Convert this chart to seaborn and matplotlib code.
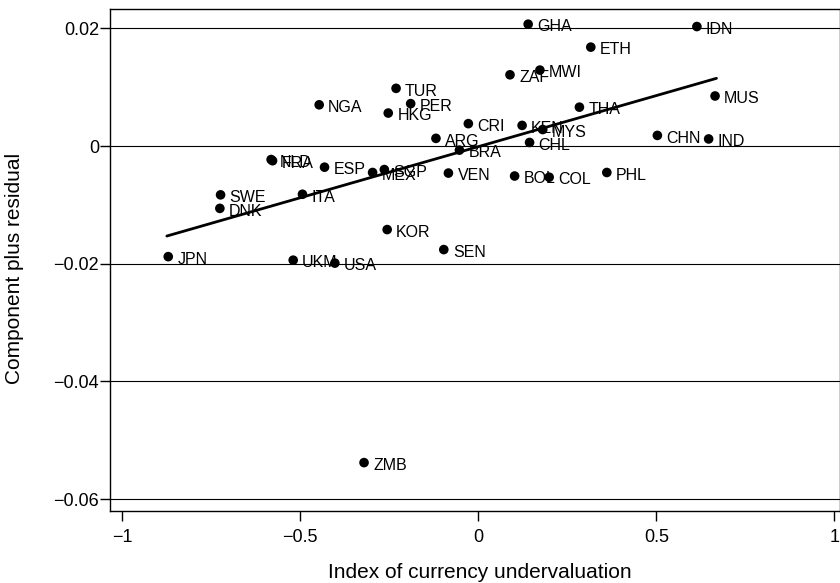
import matplotlib
matplotlib.use("Agg")
import matplotlib.pyplot as plt
import seaborn as sns
import pandas as pd

# ---- data ----
countries = ["GHA", "IDN", "ETH", "ZAF", "MWI", "TUR", "NGA", "PER", "HKG", "MUS",
             "THA", "CRI", "KEN", "MYS", "CHN", "IND", "ARG", "CHL", "BRA", "NLD",
             "FRA", "ESP", "SGP", "MEX", "VEN", "BOL", "COL", "PHL", "SWE", "DNK",
             "ITA", "KOR", "SEN", "JPN", "UKM", "USA", "ZMB"]
undervaluation = [0.140, 0.614, 0.316, 0.089, 0.173, -0.231, -0.447, -0.190, -0.253, 0.665,
                  0.284, -0.028, 0.123, 0.181, 0.503, 0.647, -0.119, 0.144, -0.053, -0.582,
                  -0.578, -0.432, -0.264, -0.297, -0.084, 0.102, 0.199, 0.361, -0.724, -0.726,
                  -0.494, -0.256, -0.097, -0.871, -0.520, -0.403, -0.321]
comp_resid = [0.0207, 0.0203, 0.0168, 0.0121, 0.0129, 0.0098, 0.0070, 0.0072, 0.0056, 0.0085,
              0.0066, 0.0038, 0.0035, 0.0028, 0.0018, 0.0012, 0.0013, 0.0006, -0.0007, -0.0023,
              -0.0025, -0.0036, -0.0040, -0.0045, -0.0046, -0.0051, -0.0053, -0.0045, -0.0083, -0.0106,
              -0.0082, -0.0142, -0.0176, -0.0188, -0.0194, -0.0199, -0.0538]
fit_x = [-0.875, 0.669]
fit_y = [-0.0153, 0.0115]

x_ticks = [-1, -0.5, 0, 0.5, 1]
x_ticklabels = ["\u22121", "\u22120.5", "0", "0.5", "1"]
y_ticks = [0.02, 0, -0.02, -0.04, -0.06]
y_ticklabels = ["0.02", "0", "\u22120.02", "\u22120.04", "\u22120.06"]

df = pd.DataFrame({"country": countries, "x": undervaluation, "y": comp_resid})

sns.set_style("white")
plt.rcParams["font.family"] = ["Liberation Sans", "DejaVu Sans"]
plt.rcParams["text.color"] = "black"
plt.rcParams["axes.labelcolor"] = "black"
plt.rcParams["xtick.color"] = "black"
plt.rcParams["ytick.color"] = "black"

fig = plt.figure(figsize=(8.4, 5.83), dpi=100)
ax = fig.add_axes([110 / 840, 1 - 510.7 / 583, 1 - 110 / 840, (510.7 - 9) / 583])

sns.lineplot(x=fit_x, y=fit_y, color="black", lw=2.0, ax=ax, zorder=3)
sns.scatterplot(data=df, x="x", y="y", color="black", s=48, edgecolor="none",
                ax=ax, zorder=4)
for c, xv, yv in zip(df["country"], df["x"], df["y"]):
    ax.annotate(c, (xv, yv), xytext=(6.5, -2), textcoords="offset points",
                ha="left", va="center", fontsize=11.5, color="black", zorder=5)

ax.set_xlim(-1.0346, 1.016)
ax.set_ylim(-0.06197, 0.02328)
ax.set_xticks(x_ticks)
ax.set_xticklabels(x_ticklabels, fontsize=13)
ax.set_yticks(y_ticks)
ax.set_yticklabels(y_ticklabels, fontsize=13)
ax.tick_params(axis="both", direction="out", length=7, width=1, color="black",
               labelcolor="black", left=True, bottom=True)
ax.tick_params(axis="x", pad=6)
ax.tick_params(axis="y", pad=1)
ax.yaxis.grid(True, color="black", lw=0.8)
ax.xaxis.grid(False)
for s in ax.spines.values():
    s.set_color("black")
    s.set_linewidth(1.0)
    s.set_visible(True)

ax.set_xlabel("Index of currency undervaluation", fontsize=15, va="center", ha="center",
              color="black")
ax.xaxis.set_label_coords((480 - 110) / 730, (510.7 - 572) / 501.7)
ax.set_ylabel("Component plus residual", fontsize=15, va="center", ha="center",
              color="black")
ax.yaxis.set_label_coords((15 - 110) / 730, (510.7 - 268) / 501.7)

fig.savefig("out.png", dpi=100)
